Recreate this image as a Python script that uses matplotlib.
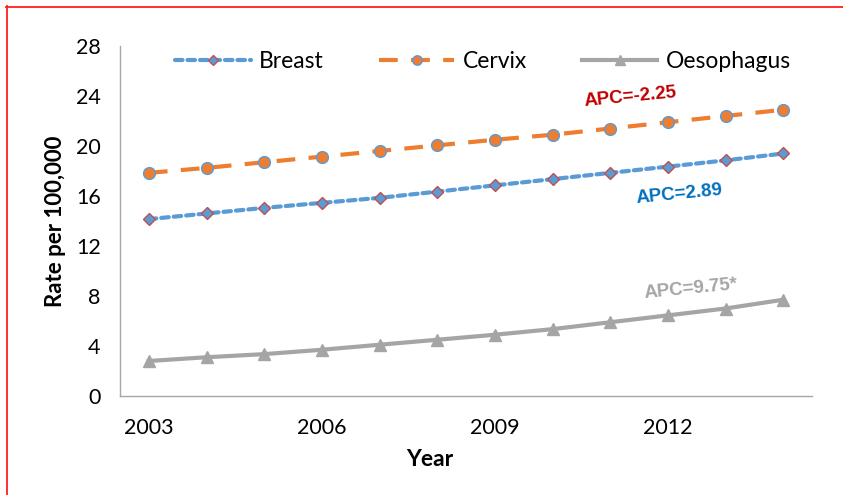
import matplotlib.pyplot as plt
from matplotlib.lines import Line2D

years = list(range(2003, 2015))
breast = [14.15, 14.6, 15.05, 15.45, 15.85, 16.35, 16.85, 17.35, 17.85, 18.35, 18.85, 19.4]
cervix = [17.85, 18.25, 18.7, 19.15, 19.6, 20.05, 20.5, 20.9, 21.4, 21.9, 22.4, 22.9]
oesophagus = [2.8, 3.1, 3.35, 3.7, 4.1, 4.5, 4.9, 5.35, 5.9, 6.45, 7.0, 7.7]

xticks = [2003, 2006, 2009, 2012]
yticks = [0, 4, 8, 12, 16, 20, 24, 28]

apc_labels = ["APC=-2.25", "APC=2.89", "APC=9.75*"]
apc_pos = [(2011.35, 23.9), (2012.2, 16.1), (2012.4, 8.55)]
apc_colors = ["#C00000", "#0070C0", "#A5A5A5"]

blue = "#5B9BD5"
orange = "#ED7D31"
grey = "#A5A5A5"

fig = plt.figure(figsize=(8.43, 4.95), dpi=100)
ax = fig.add_axes([120 / 843, 99 / 495, 692 / 843, 350 / 495])

ax.plot(years, breast, color=blue, lw=3, dashes=(1.8, 1.2),
        dash_capstyle="round", marker="D", ms=6.5, mfc=blue,
        mec="#C0504D", mew=1, label="Breast", zorder=3)
ax.plot(years, cervix, color=orange, lw=3, dashes=(4.5, 3.2),
        marker="o", ms=8.5, mfc=orange, mec=blue, mew=1,
        label="Cervix", zorder=3)
ax.plot(years, oesophagus, color=grey, lw=3, marker="^", ms=9,
        mfc=grey, mec=grey, label="Oesophagus", zorder=3)

for txt, (x, y), c in zip(apc_labels, apc_pos, apc_colors):
    ax.text(x, y, txt, color=c, fontsize=13.5, fontweight="bold",
            family="Liberation Sans", rotation=5.5, ha="center", va="center")

ax.set_xlim(2002.5, 2014.5)
ax.set_ylim(0, 28)
ax.set_xticks(xticks)
ax.set_yticks(yticks)
ax.tick_params(length=0, labelsize=15.5)
ax.tick_params(axis="y", pad=14)
ax.tick_params(axis="x", pad=16)
for lab in ax.get_xticklabels() + ax.get_yticklabels():
    lab.set_family("Lato")

for s in ["top", "right"]:
    ax.spines[s].set_visible(False)
for s in ["left", "bottom"]:
    ax.spines[s].set_color("#A6A6A6")
    ax.spines[s].set_linewidth(1)

fig.text(55 / 843, 1 - 221 / 495, "Rate per 100,000", rotation=90,
         ha="center", va="center", fontsize=16, fontweight="bold", family="Lato")
fig.text(430 / 843, 1 - 460 / 495, "Year", ha="center", va="center",
         fontsize=16.5, fontweight="bold", family="Lato")

leg = fig.legend(loc="center", bbox_to_anchor=(483 / 843, 1 - 62 / 495),
                 ncol=3, frameon=False, prop={"family": "Lato", "size": 16.5},
                 handlelength=3.3, handletextpad=0.35, columnspacing=2.4,
                 markerscale=0.8)

# red frame around the chart
fig.add_artist(Line2D([6 / 843, 1.0], [1 - 6.5 / 495] * 2, color="#FF2020", lw=1.3))
fig.add_artist(Line2D([6.5 / 843] * 2, [0.0, 1 - 6 / 495], color="#FF2020", lw=1.3))

fig.savefig("out.png", dpi=100)
